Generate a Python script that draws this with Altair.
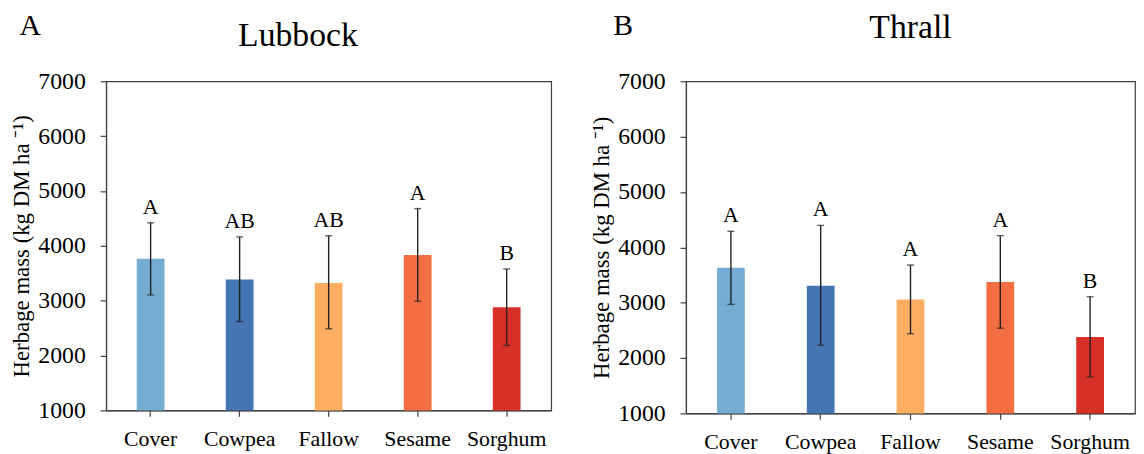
import altair as alt
import pandas as pd

categories = ["Cover", "Cowpea", "Fallow", "Sesame", "Sorghum"]
bar_colors = ["#74add1", "#4575b4", "#fdae61", "#f46d43", "#d73027"]

lubbock_mean = [3765, 3385, 3325, 3835, 2880]
lubbock_low = [3105, 2620, 2488, 2990, 2185]
lubbock_high = [4421, 4163, 4185, 4680, 3578]
lubbock_letters = ["A", "AB", "AB", "A", "B"]

thrall_mean = [3633, 3305, 3060, 3376, 2379]
thrall_low = [2970, 2230, 2439, 2540, 1657]
thrall_high = [4290, 4397, 3681, 4212, 3108]
thrall_letters = ["A", "A", "A", "A", "B"]

y_ticks = [1000, 2000, 3000, 4000, 5000, 6000, 7000]
y_title = "Herbage mass (kg DM ha \u207b\u00b9)"
FONT = "Liberation Serif"


def panel(mean, low, high, letters, site, tag, tag_x, title_dx, title_offset, w, h):
    df = pd.DataFrame({"cat": categories, "mean": mean, "low": low,
                       "high": high, "letter": letters, "base": 1000})
    x_scale = alt.Scale(paddingInner=0, paddingOuter=0)
    y_scale = alt.Scale(domain=[1000, 7000], zero=False, nice=False)
    bars = alt.Chart(df).mark_bar(size=28).encode(
        x=alt.X("cat:N", sort=categories, scale=x_scale,
                axis=alt.Axis(title=None, labelAngle=0, labelPadding=12)),
        y=alt.Y("mean:Q", scale=y_scale,
                axis=alt.Axis(values=y_ticks, title=y_title, format="d",
                              labelPadding=15, titlePadding=4)),
        y2=alt.Y2("base:Q"),
        color=alt.Color("cat:N", scale=alt.Scale(domain=categories, range=bar_colors),
                        legend=None),
    )
    err = alt.Chart(df).mark_errorbar(ticks=True, size=7, thickness=1.4,
                                      color="#222222").encode(
        x=alt.X("cat:N", sort=categories, scale=x_scale, axis=None),
        y=alt.Y("low:Q", scale=y_scale, title=y_title),
        y2=alt.Y2("high:Q"),
    )
    txt = alt.Chart(df).mark_text(baseline="alphabetic", dy=-9, fontSize=22, font=FONT,
                                  color="black").encode(
        x=alt.X("cat:N", sort=categories, scale=x_scale,
                axis=alt.Axis(orient="top", title=tag, labels=False, ticks=False,
                              domain=False, titleX=tag_x, titleY=-47,
                              titleAlign="left", titleBaseline="alphabetic",
                              titleAngle=0, titleFontSize=30)),
        y=alt.Y("high:Q", scale=y_scale, title=y_title),
        text="letter:N",
    )
    return alt.layer(bars, err, txt).resolve_axis(x="independent").properties(
        width=w, height=h,
        title=alt.TitleParams(site, fontSize=34, font=FONT, fontWeight="normal",
                              dx=title_dx, offset=title_offset, baseline="alphabetic",
                              color="black"),
    )


panel_a = panel(lubbock_mean, lubbock_low, lubbock_high, lubbock_letters,
                "Lubbock", "A", -88, -31, -69.7, 449, 332)
panel_b = panel(thrall_mean, thrall_low, thrall_high, thrall_letters,
                "Thrall", "B", -74, 0, -61.7, 453, 335)

chart = alt.hconcat(panel_a, panel_b, spacing=38).properties(
    padding={"left": 2, "top": 0, "right": 0, "bottom": 0}
).configure_axis(
    domainColor="#404040", domainWidth=1.2, tickColor="#404040", tickWidth=1.2,
    tickSize=6, labelFont=FONT, labelFontSize=24, labelColor="black",
    titleFont=FONT, titleFontSize=23, titleFontWeight="normal", titleColor="black",
    grid=False,
).configure_axisX(labelFontSize=22).configure_view(stroke="#404040", strokeWidth=1.2)

chart.save("out.html", embed_options={"renderer": "svg", "actions": False})
